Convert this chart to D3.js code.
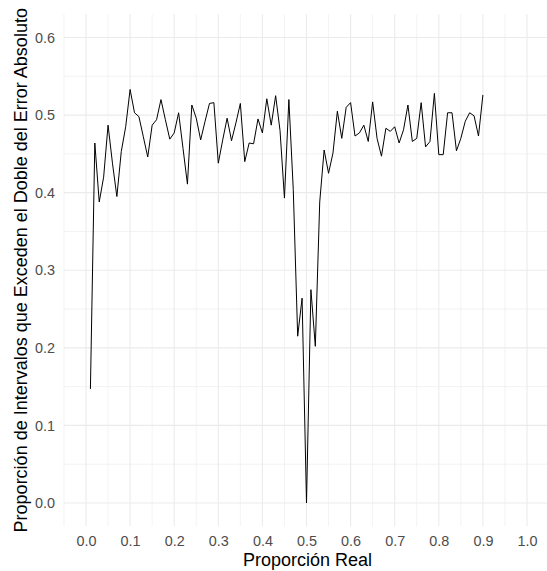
<!DOCTYPE html>
<html>
<head>
<meta charset="utf-8">
<script src="https://cdn.jsdelivr.net/npm/d3@7"></script>
<style>
  body { margin: 0; background: #fff; }
  text { font-family: "Liberation Sans", Arial, sans-serif; }
</style>
</head>
<body>
<div class="chart"></div>
<script>
const w = 547,
  h = 571;

// proporción real (x) and proporción de intervalos (y)
const proporcionReal = [
  0.01, 0.02, 0.03, 0.04, 0.05, 0.06, 0.07, 0.08, 0.09, 0.1,
  0.11, 0.12, 0.13, 0.14, 0.15, 0.16, 0.17, 0.18, 0.19, 0.2,
  0.21, 0.22, 0.23, 0.24, 0.25, 0.26, 0.27, 0.28, 0.29, 0.3,
  0.31, 0.32, 0.33, 0.34, 0.35, 0.36, 0.37, 0.38, 0.39, 0.4,
  0.41, 0.42, 0.43, 0.44, 0.45, 0.46, 0.47, 0.48, 0.49, 0.5,
  0.51, 0.52, 0.53, 0.54, 0.55, 0.56, 0.57, 0.58, 0.59, 0.6,
  0.61, 0.62, 0.63, 0.64, 0.65, 0.66, 0.67, 0.68, 0.69, 0.7,
  0.71, 0.72, 0.73, 0.74, 0.75, 0.76, 0.77, 0.78, 0.79, 0.8,
  0.81, 0.82, 0.83, 0.84, 0.85, 0.86, 0.87, 0.88, 0.89, 0.9
];
const proporcionExceden = [
  0.147, 0.464, 0.388, 0.420, 0.487, 0.438, 0.395, 0.453, 0.485, 0.533,
  0.503, 0.498, 0.472, 0.446, 0.487, 0.494, 0.520, 0.494, 0.469, 0.477,
  0.503, 0.457, 0.411, 0.513, 0.496, 0.468, 0.492, 0.515, 0.516, 0.438,
  0.468, 0.496, 0.467, 0.490, 0.515, 0.440, 0.464, 0.463, 0.495, 0.477,
  0.521, 0.487, 0.525, 0.480, 0.393, 0.520, 0.404, 0.215, 0.264, 0.000,
  0.275, 0.202, 0.388, 0.455, 0.425, 0.451, 0.505, 0.470, 0.510, 0.516,
  0.473, 0.477, 0.487, 0.466, 0.517, 0.470, 0.447, 0.483, 0.479, 0.485,
  0.464, 0.481, 0.513, 0.466, 0.470, 0.516, 0.459, 0.466, 0.528, 0.449,
  0.449, 0.503, 0.503, 0.454, 0.470, 0.492, 0.503, 0.499, 0.473, 0.526
];

const xTicks = [0, 0.1, 0.2, 0.3, 0.4, 0.5, 0.6, 0.7, 0.8, 0.9, 1.0];
const xMinor = [-0.05, 0.05, 0.15, 0.25, 0.35, 0.45, 0.55, 0.65, 0.75, 0.85, 0.95, 1.05];
const yTicks = [0, 0.1, 0.2, 0.3, 0.4, 0.5, 0.6];
const yMinor = [0.05, 0.15, 0.25, 0.35, 0.45, 0.55];

const series = proporcionReal.map((x, i) => [x, proporcionExceden[i]]);

const xScale = d3.scaleLinear().domain([0, 1]).range([86, 527]);
const yScale = d3.scaleLinear().domain([0, 0.6]).range([503, 37.5]);

// panel limits with the 5% expansion
const x0 = xScale(-0.05),
  x1 = xScale(1.05),
  y0 = yScale(-0.03),
  y1 = yScale(0.63);

var svg = d3
  .select(".chart")
  .append("svg")
  .attr("width", w)
  .attr("height", h);

// minor grid
svg
  .append("g")
  .selectAll("line")
  .data(xMinor)
  .enter()
  .append("line")
  .attr("x1", (d) => xScale(d))
  .attr("x2", (d) => xScale(d))
  .attr("y1", y0)
  .attr("y2", y1)
  .attr("stroke", "#ebebeb")
  .attr("stroke-width", 0.6);

svg
  .append("g")
  .selectAll("line")
  .data(yMinor)
  .enter()
  .append("line")
  .attr("x1", x0)
  .attr("x2", x1)
  .attr("y1", (d) => yScale(d))
  .attr("y2", (d) => yScale(d))
  .attr("stroke", "#ebebeb")
  .attr("stroke-width", 0.6);

// major grid
svg
  .append("g")
  .selectAll("line")
  .data(xTicks)
  .enter()
  .append("line")
  .attr("x1", (d) => xScale(d))
  .attr("x2", (d) => xScale(d))
  .attr("y1", y0)
  .attr("y2", y1)
  .attr("stroke", "#ebebeb")
  .attr("stroke-width", 1.1);

svg
  .append("g")
  .selectAll("line")
  .data(yTicks)
  .enter()
  .append("line")
  .attr("x1", x0)
  .attr("x2", x1)
  .attr("y1", (d) => yScale(d))
  .attr("y2", (d) => yScale(d))
  .attr("stroke", "#ebebeb")
  .attr("stroke-width", 1.1);

// axes, text only (theme_minimal has no lines or ticks)
const xAxis = d3
  .axisBottom(xScale)
  .tickValues(xTicks)
  .tickFormat(d3.format(".1f"))
  .tickSize(0)
  .tickPadding(0);

svg
  .append("g")
  .attr("id", "x-axis")
  .attr("transform", "translate(0, 536)")
  .call(xAxis)
  .call((g) => g.select(".domain").remove())
  .selectAll("text")
  .attr("fill", "#4d4d4d")
  .attr("font-size", "14.4px")
  .attr("font-family", "Liberation Sans, Arial, sans-serif");

const yAxis = d3
  .axisLeft(yScale)
  .tickValues(yTicks)
  .tickFormat(d3.format(".1f"))
  .tickSize(0)
  .tickPadding(0);

svg
  .append("g")
  .attr("id", "y-axis")
  .attr("transform", "translate(55, 0)")
  .call(yAxis)
  .call((g) => g.select(".domain").remove())
  .selectAll("text")
  .attr("fill", "#4d4d4d")
  .attr("font-size", "14.4px")
  .attr("font-family", "Liberation Sans, Arial, sans-serif");

// the line
const line = d3
  .line()
  .x((d) => xScale(d[0]))
  .y((d) => yScale(d[1]));

svg
  .append("path")
  .datum(series)
  .attr("d", line)
  .attr("fill", "none")
  .attr("stroke", "#000")
  .attr("stroke-width", 1)
  .attr("stroke-linejoin", "round");

// axis titles
svg
  .append("text")
  .attr("x", (x0 + x1) / 2 + 1)
  .attr("y", 566)
  .attr("text-anchor", "middle")
  .attr("font-size", "18px")
  .attr("fill", "#000")
  .text("Proporción Real");

svg
  .append("text")
  .attr("transform", "translate(27, " + (y0 + y1) / 2 + ") rotate(-90)")
  .attr("text-anchor", "middle")
  .attr("font-size", "18px")
  .attr("fill", "#000")
  .text("Proporción de Intervalos que Exceden el Doble del Error Absoluto");
</script>
</body>
</html>
